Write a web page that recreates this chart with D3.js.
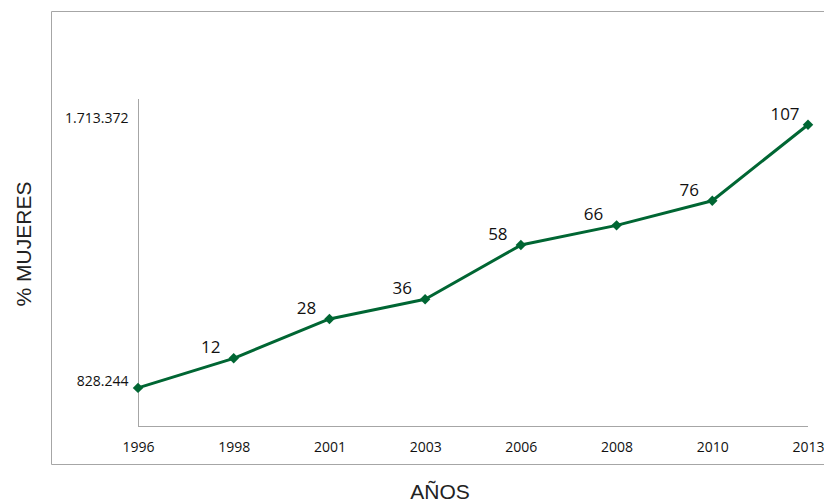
<!DOCTYPE html>
<html>
<head>
<meta charset="utf-8">
<script src="https://cdn.jsdelivr.net/npm/d3@7"></script>
<style>
  body { margin: 0; background: #fff; }
  svg { display: block; }
</style>
</head>
<body>
<svg id="chart" width="824" height="503"></svg>
<script>
// data
const years = ['1996', '1998', '2001', '2003', '2006', '2008', '2010', '2013'];
const women = [828244, 927600, 1060200, 1126400, 1308600, 1374900, 1457700, 1713372];
const growthLabels = ['', '12', '28', '36', '58', '66', '76', '107'];
const yTickValues = [828244, 1713372];

const svg = d3.select('#chart');
const green = '#006633';
const gray = '#a6a6a6';

const locale = d3.formatLocale({ decimal: ',', thousands: '.', grouping: [3] });
const fmt = locale.format(',d');

const x = d3.scalePoint()
  .domain(years)
  .range([138, 808]);

const y = d3.scaleLinear()
  .domain([700000, 1800000])
  .range([426, 99]);

// outer frame (right side runs off the picture)
svg.append('path')
  .attr('d', 'M830,11.5H51.5V464.5H830')
  .attr('fill', 'none')
  .attr('stroke', gray)
  .attr('stroke-width', 1);

// y axis
const yAxis = svg.append('g')
  .attr('transform', 'translate(138.5,0)')
  .call(d3.axisLeft(y).tickValues(yTickValues).tickFormat(fmt).tickSize(0).tickPadding(10));
yAxis.select('.domain').attr('stroke', gray).attr('d', 'M0,99V426');
yAxis.selectAll('text')
  .attr('dy', '-0.15em')
  .style('font-family', '"Open Sans", sans-serif')
  .style('font-size', '14px')
  .attr('fill', '#111');

// x axis
const xAxis = svg.append('g')
  .attr('transform', 'translate(0,426.5)')
  .call(d3.axisBottom(x).tickSize(0).tickPadding(16));
xAxis.select('.domain').attr('stroke', gray).attr('d', 'M138,0H808');
xAxis.selectAll('text')
  .style('font-family', '"Open Sans", sans-serif')
  .style('font-size', '14px')
  .attr('fill', '#111');

// line
const line = d3.line()
  .x((d, i) => x(years[i]))
  .y(d => y(d));

svg.append('path')
  .datum(women)
  .attr('d', line)
  .attr('fill', 'none')
  .attr('stroke', green)
  .attr('stroke-width', 3)
  .attr('stroke-linejoin', 'round');

// diamond markers
svg.append('g')
  .selectAll('path')
  .data(women)
  .join('path')
    .attr('transform', (d, i) => `translate(${x(years[i])},${y(d)})`)
    .attr('d', d3.symbol(d3.symbolDiamond2, 70))
    .attr('fill', green);

// data labels
svg.append('g')
  .selectAll('text')
  .data(women)
  .join('text')
    .attr('x', (d, i) => x(years[i]) - 23)
    .attr('y', d => y(d) - 5)
    .attr('text-anchor', 'middle')
    .style('font-family', '"Open Sans", sans-serif')
    .style('font-size', '17px')
    .attr('fill', '#111')
    .text((d, i) => growthLabels[i]);

// axis titles
svg.append('text')
  .attr('x', 440)
  .attr('y', 499)
  .attr('text-anchor', 'middle')
  .style('font-family', '"Liberation Sans", Arial, sans-serif')
  .style('font-size', '21px')
  .attr('fill', '#222')
  .text('AÑOS');

svg.append('text')
  .attr('transform', 'translate(31,244) rotate(-90)')
  .attr('text-anchor', 'middle')
  .style('font-family', '"Liberation Sans", Arial, sans-serif')
  .style('font-size', '21px')
  .attr('fill', '#222')
  .text('% MUJERES');
</script>
</body>
</html>
